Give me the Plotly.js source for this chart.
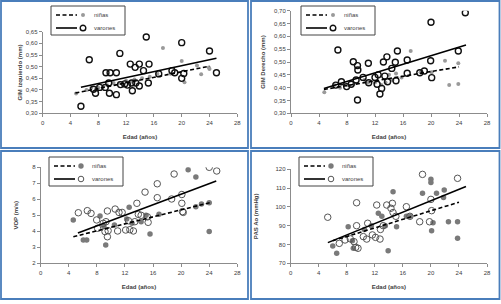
<!DOCTYPE html>
<html><head><meta charset="utf-8">
<script src="https://cdn.plot.ly/plotly-3.0.1.min.js"></script>
<style>html,body{margin:0;padding:0;background:#fff}#c{width:501px;height:304px}</style>
</head><body><div id="c"></div>
<script>
// ---------- DATA ----------
const legendNames = ['niñas', 'varones'];
const xTitle = 'Edad (años)';
const yTitles = ['GIM izquierdo (mm)', 'GIM Derecho (mm)', 'VOP (m/s)', 'PAS Ao (mmHg)'];

// Panel 1: GIM izquierdo
const p1NinasX = [4.8,6.3,7.0,8.0,8.7,9.3,10.2,11.0,12.0,12.7,13.2,14.3,15.4,16.5,17.3,18.4,20.0,20.4,22.2,22.8,23.9,24.0];
const p1NinasY = [0.385,0.40,0.41,0.41,0.415,0.42,0.43,0.43,0.44,0.435,0.445,0.45,0.457,0.47,0.58,0.47,0.524,0.433,0.505,0.468,0.496,0.49];
const p1VaronesX = [5.5,6.7,7.3,7.6,8.2,9.0,9.1,9.7,9.5,9.6,10.6,10.6,11.1,11.2,11.8,12.2,12.6,12.9,12.8,13.3,13.4,13.9,13.9,14.5,14.9,15.3,15.2,16.7,18.6,19.0,20.0,20.0,20.3,24.0,25.0];
const p1VaronesY = [0.33,0.53,0.403,0.386,0.411,0.411,0.474,0.474,0.43,0.386,0.474,0.38,0.557,0.423,0.426,0.421,0.511,0.397,0.43,0.497,0.43,0.511,0.417,0.483,0.627,0.511,0.43,0.469,0.483,0.474,0.603,0.45,0.471,0.567,0.474];
const p1FitNinasX = [4.7, 24], p1FitNinasY = [0.387, 0.502];
const p1FitVaronesX = [5.5, 25], p1FitVaronesY = [0.412, 0.536];

// Panel 2: GIM derecho
const p2NinasX = [4.76,6.2,7.0,8.0,9.0,10.5,11.0,12.0,12.9,13.5,14.0,14.5,15.0,15.8,17.1,18.5,20.1,22.0,22.6,23.9,23.9];
const p2NinasY = [0.382,0.41,0.40,0.41,0.415,0.43,0.42,0.42,0.41,0.42,0.45,0.43,0.455,0.44,0.543,0.46,0.46,0.505,0.41,0.414,0.495];
const p2VaronesX = [6.4,6.7,7.2,7.95,8.6,8.9,9.3,9.5,9.55,9.5,10.3,11.05,11.1,12.0,12.3,12.45,12.7,12.95,13.2,13.4,13.7,13.8,14.4,14.9,15.2,15.0,16.6,16.6,18.4,19.05,19.95,20.0,20.1,23.9,24.9];
const p2VaronesY = [0.41,0.547,0.423,0.404,0.413,0.501,0.43,0.486,0.469,0.352,0.44,0.495,0.419,0.44,0.413,0.45,0.375,0.397,0.50,0.445,0.52,0.423,0.475,0.499,0.543,0.427,0.508,0.456,0.458,0.465,0.505,0.655,0.439,0.543,0.692];
const p2FitNinasX = [4.7, 24], p2FitNinasY = [0.393, 0.481];
const p2FitVaronesX = [4.7, 25], p2FitVaronesY = [0.397, 0.566];

// Panel 3: VOP
const p3NinasX = [4.64,6.07,6.55,8.45,9.26,9.0,10.5,12.25,12.6,13.0,14.3,15.57,15.0,16.85,21.0,22.1,22.1,22.9,24.0,24.0];
const p3NinasY = [4.7,3.46,3.46,4.95,3.14,4.3,4.4,4.77,5.5,4.5,4.6,3.83,5.0,5.06,7.85,7.4,5.54,5.7,5.78,3.98];
const p3VaronesX = [5.36,6.64,7.17,7.97,8.1,8.9,9.16,9.5,9.6,9.3,9.5,10.6,10.96,11.15,11.6,12.1,12.5,12.7,13.2,13.4,13.7,13.9,14.3,14.86,15.3,15.2,16.6,16.6,18.65,19.0,20.1,20.1,20.2,20.3,24.0,25.07];
const p3VaronesY = [5.16,5.29,5.12,4.71,4.19,4.5,3.98,3.66,4.04,4.6,5.27,5.39,4.02,5.18,5.18,4.08,4.66,4.1,4.02,4.6,5.75,5.06,5.0,6.45,4.56,4.9,6.1,6.97,6.02,7.58,6.3,5.75,5.23,5.18,8.0,7.77];
const p3FitNinasX = [4.65, 24.1], p3FitNinasY = [3.66, 5.79];
const p3FitVaronesX = [5.3, 25], p3FitVaronesY = [3.9, 7.15];

// Panel 4: PAS Ao
const p4NinasX = [6.0,6.56,8.2,8.8,8.93,10.5,11.5,12.5,13.0,13.5,13.9,14.6,15.1,16.5,17.0,18.8,20.0,20.0,20.1,20.3,20.8,21.9,21.8,22.5,23.8,23.8];
const p4NinasY = [79.2,75.3,89.5,82,78,88,90,96.6,95,90,76.7,108.1,89.5,95,95,107.2,114.7,113,87.3,91.6,107.2,109,105,92.1,92.1,83.3];
const p4VaronesX = [5.28,6.93,7.75,8.5,9.03,9.27,9.4,9.4,9.6,10.36,10.84,10.98,11.65,12.1,12.27,12.74,12.8,13.2,13.7,14.3,14.5,14.6,15.0,16.5,17.0,18.4,18.8,19.8,20.0,20.1,23.8];
const p4VaronesY = [94.5,80.6,82.4,83,81.5,78.5,102.2,90.0,78,84.2,82.9,91.3,85.1,83.8,101,82.9,88,90,101,99.3,101.9,97,95,100.1,95,92.1,117.3,92.1,104,98,115.2];
const p4FitNinasX = [6, 24], p4FitNinasY = [82, 102.5];
const p4FitVaronesX = [5.3, 25], p4FitVaronesY = [81, 110.8];

const xRange = [0, 28];
const yRanges = [[0.30, 0.65], [0.30, 0.70], [2, 8], [70, 120]];
const yDticks = [0.05, 0.05, 1, 10];

// ---------- LAYOUT HELPERS ----------
const W = 501, H = 304;
const fx = x => x / W, fy = y => 1 - y / H;
const FONT = 'Liberation Sans, Arial, sans-serif';
const BLUE = '#4a7ebb';

const panels = [
  {nx:p1NinasX, ny:p1NinasY, vx:p1VaronesX, vy:p1VaronesY, fnx:p1FitNinasX, fny:p1FitNinasY, fvx:p1FitVaronesX, fvy:p1FitVaronesY,
   dom:{x:[42.7,237.3], y:[31.7,113.3]}, box:[1,1,248,148], leg:[51,6], fmt:'.2f', standoff:2, heavy:true},
  {nx:p2NinasX, ny:p2NinasY, vx:p2VaronesX, vy:p2VaronesY, fnx:p2FitNinasX, fny:p2FitNinasY, fvx:p2FitVaronesX, fvy:p2FitVaronesY,
   dom:{x:[291,487], y:[10.7,113.3]}, box:[251,1,499.5,148], leg:[301,6], fmt:'.2f', standoff:8, heavy:true},
  {nx:p3NinasX, ny:p3NinasY, vx:p3VaronesX, vy:p3VaronesY, fnx:p3FitNinasX, fny:p3FitNinasY, fvx:p3FitVaronesX, fvy:p3FitVaronesY,
   dom:{x:[40.7,237.3], y:[167.3,263.3]}, box:[1,151,248,299], leg:[49,157], fmt:'d', standoff:13, heavy:false},
  {nx:p4NinasX, ny:p4NinasY, vx:p4VaronesX, vy:p4VaronesY, fnx:p4FitNinasX, fny:p4FitNinasY, fvx:p4FitVaronesX, fvy:p4FitVaronesY,
   dom:{x:[290.7,487], y:[169.3,263.3]}, box:[251,151,499.5,299], leg:[299,157], fmt:'d', standoff:16, heavy:false}
];

const data = [];
const layout = {
  width: W, height: H, margin: {l:0, r:0, t:0, b:0},
  paper_bgcolor: '#fff', plot_bgcolor: 'rgba(0,0,0,0)',
  showlegend: false, separators: ',.',
  font: {family: FONT, size: 6, color: '#404040'},
  shapes: [], annotations: []
};

panels.forEach((p, i) => {
  const k = i === 0 ? '' : String(i + 1);
  const xa = 'x' + k, ya = 'y' + k;
  const ninaMarker = p.heavy ? {size:4, color:'#9a9a9a'} : {size:5.5, color:'#7a7a7a'};
  const varonMarker = p.heavy ? {size:6, symbol:'circle-open', color:'#111', line:{width:1.4, color:'#111'}}
                              : {size:6.5, symbol:'circle-open', color:'#555', line:{width:1, color:'#555'}};
  data.push({x:p.nx, y:p.ny, xaxis:xa, yaxis:ya, type:'scatter', mode:'markers', name:legendNames[0], marker:ninaMarker, hoverinfo:'x+y'});
  data.push({x:p.vx, y:p.vy, xaxis:xa, yaxis:ya, type:'scatter', mode:'markers', name:legendNames[1], marker:varonMarker, hoverinfo:'x+y'});
  data.push({x:p.fnx, y:p.fny, xaxis:xa, yaxis:ya, type:'scatter', mode:'lines', name:legendNames[0], line:{color:'#000', width:1.6, dash:'4px,2.5px'}, hoverinfo:'skip'});
  data.push({x:p.fvx, y:p.fvy, xaxis:xa, yaxis:ya, type:'scatter', mode:'lines', name:legendNames[1], line:{color:'#000', width:1.6}, hoverinfo:'skip'});

  const axCommon = {showgrid:false, zeroline:false, showline:true, linecolor:'#8c8c8c', linewidth:1,
    ticks:'outside', ticklen:3, tickcolor:'#8c8c8c', tickfont:{family:FONT, size:6, color:'#404040'}, fixedrange:true};
  layout['xaxis' + k] = Object.assign({}, axCommon, {
    domain:[fx(p.dom.x[0]), fx(p.dom.x[1])], anchor:ya, range:xRange, dtick:4, tick0:0,
    title:{text:xTitle, font:{family:FONT, size:6, color:'#404040', weight:'bold'}, standoff:10}
  });
  layout['yaxis' + k] = Object.assign({}, axCommon, {
    domain:[fy(p.dom.y[1]), fy(p.dom.y[0])], anchor:xa, range:yRanges[i], dtick:yDticks[i], tickformat:p.fmt,
    title:{text:yTitles[i], font:{family:FONT, size:6, color:'#404040', weight:'bold'}, standoff:p.standoff}
  });

  // panel frame
  layout.shapes.push({type:'rect', xref:'paper', yref:'paper', x0:fx(p.box[0]), x1:fx(p.box[2]), y0:fy(p.box[1]), y1:fy(p.box[3]),
    line:{color:BLUE, width:1.8}, fillcolor:'rgba(0,0,0,0)', layer:'below'});

  // legend box
  const L = p.leg[0], T = p.leg[1];
  layout.shapes.push({type:'rect', xref:'paper', yref:'paper', x0:fx(L), x1:fx(L+74), y0:fy(T), y1:fy(T+29),
    line:{color:'#444', width:1}, fillcolor:'#fff', layer:'above'});
  const rows = [T + 9, T + 22];
  layout.shapes.push({type:'line', xref:'paper', yref:'paper', x0:fx(L+5), x1:fx(L+26), y0:fy(rows[0]), y1:fy(rows[0]),
    line:{color:'#000', width:1.6, dash:'4px,2.5px'}});
  const rn = p.heavy ? 2 : 2.7;
  layout.shapes.push({type:'circle', xref:'paper', yref:'paper', x0:fx(L+32-rn), x1:fx(L+32+rn), y0:fy(rows[0]-rn), y1:fy(rows[0]+rn),
    line:{width:0}, fillcolor:ninaMarker.color});
  layout.shapes.push({type:'line', xref:'paper', yref:'paper', x0:fx(L+5), x1:fx(L+26), y0:fy(rows[1]), y1:fy(rows[1]),
    line:{color:'#000', width:1.6}});
  layout.shapes.push({type:'circle', xref:'paper', yref:'paper', x0:fx(L+29.2), x1:fx(L+34.8), y0:fy(rows[1]-2.8), y1:fy(rows[1]+2.8),
    line:{width:p.heavy ? 1.4 : 1, color:p.heavy ? '#111' : '#555'}, fillcolor:'rgba(0,0,0,0)'});
  legendNames.forEach((nm, j) => {
    layout.annotations.push({xref:'paper', yref:'paper', x:fx(L+41), y:fy(rows[j]), xanchor:'left', yanchor:'middle',
      text:nm, showarrow:false, font:{family:FONT, size:6, color:'#404040'}});
  });
});

Plotly.newPlot('c', data, layout, {staticPlot:true, displayModeBar:false});
</script></body></html>
